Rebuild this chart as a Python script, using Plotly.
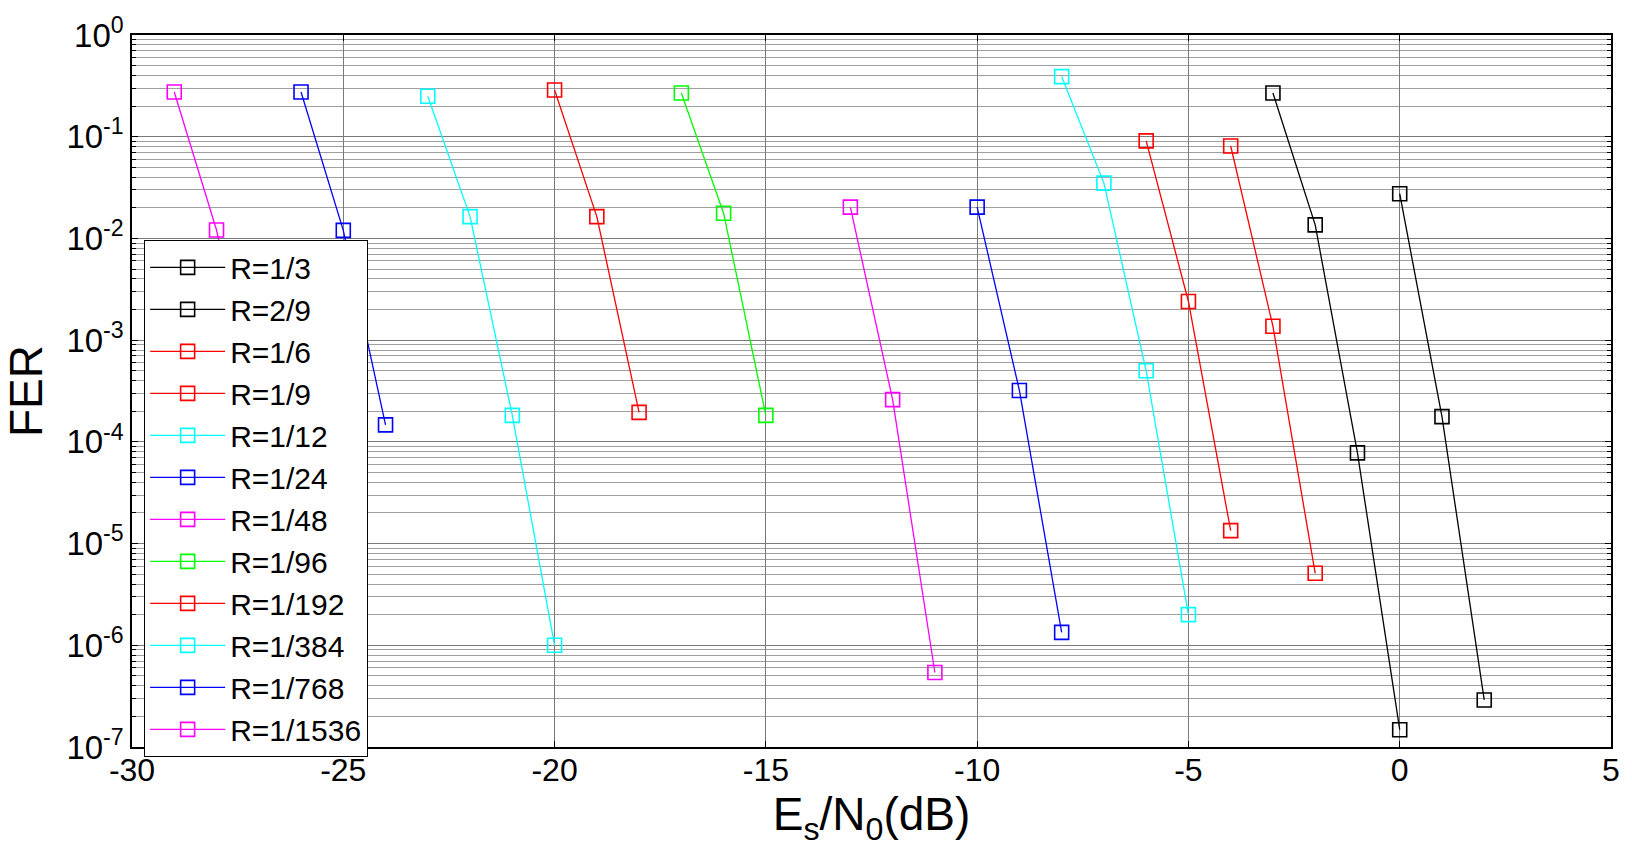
import plotly.graph_objects as go

# Es/N0 (dB) values and FER for each code rate
names = ["R=1/3", "R=2/9", "R=1/6", "R=1/9", "R=1/12", "R=1/24",
         "R=1/48", "R=1/96", "R=1/192", "R=1/384", "R=1/768", "R=1/1536"]
colors = ["#000000", "#000000", "#ff0000", "#ff0000", "#00ffff", "#0000ff",
          "#ff00ff", "#00ff00", "#ff0000", "#00ffff", "#0000ff", "#ff00ff"]

x_r1_3 = [0, 1, 2]
y_r1_3 = [2.75e-2, 1.77e-4, 2.9e-7]
x_r2_9 = [-3, -2, -1, 0]
y_r2_9 = [0.269, 1.36e-2, 7.8e-5, 1.48e-7]
x_r1_6 = [-4, -3, -2]
y_r1_6 = [8.1e-2, 1.37e-3, 5.1e-6]
x_r1_9 = [-6, -5, -4]
y_r1_9 = [9.1e-2, 2.4e-3, 1.34e-5]
x_r1_12 = [-8, -7, -6, -5]
y_r1_12 = [0.39, 3.5e-2, 5.0e-4, 2.0e-6]
x_r1_24 = [-10, -9, -8]
y_r1_24 = [2.03e-2, 3.2e-4, 1.34e-6]
x_r1_48 = [-13, -12, -11]
y_r1_48 = [2.03e-2, 2.6e-4, 5.4e-7]
x_r1_96 = [-17, -16, -15]
y_r1_96 = [0.269, 1.77e-2, 1.82e-4]
x_r1_192 = [-20, -19, -18]
y_r1_192 = [0.288, 1.64e-2, 1.95e-4]
x_r1_384 = [-23, -22, -21, -20]
y_r1_384 = [0.25, 1.64e-2, 1.82e-4, 1.0e-6]
x_r1_768 = [-26, -25, -24]
y_r1_768 = [0.275, 1.2e-2, 1.47e-4]
x_r1_1536 = [-29, -28, -27]
y_r1_1536 = [0.275, 1.21e-2, 1.5e-4]

xs = [x_r1_3, x_r2_9, x_r1_6, x_r1_9, x_r1_12, x_r1_24,
      x_r1_48, x_r1_96, x_r1_192, x_r1_384, x_r1_768, x_r1_1536]
ys = [y_r1_3, y_r2_9, y_r1_6, y_r1_9, y_r1_12, y_r1_24,
      y_r1_48, y_r1_96, y_r1_192, y_r1_384, y_r1_768, y_r1_1536]

x_ticks = [-30, -25, -20, -15, -10, -5, 0, 5]
y_exps = [0, -1, -2, -3, -4, -5, -6, -7]

font_family = "Liberation Sans, Arial, sans-serif"

fig = go.Figure()
for n, c, x, y in zip(names, colors, xs, ys):
    fig.add_trace(go.Scatter(
        x=x, y=y, name=n, mode="lines+markers",
        line=dict(color=c, width=1.3),
        marker=dict(symbol="square-open", size=14, color=c, line=dict(width=1.6, color=c)),
    ))

minor_vals = [k * 10.0 ** d for d in range(-7, 0) for k in range(2, 10)]

fig.update_layout(
    width=1632, height=849,
    margin=dict(l=132, r=19, t=31, b=102),
    paper_bgcolor="white", plot_bgcolor="white",
    font=dict(family=font_family, color="black"),
    showlegend=True,
    legend=dict(
        x=0.008, y=0.712, xanchor="left", yanchor="top",
        bgcolor="white", bordercolor="black", borderwidth=1.3,
        font=dict(size=30, family=font_family, color="black"),
        itemwidth=75, tracegroupgap=0,
    ),
    xaxis=dict(
        range=[-30, 5], tickvals=x_ticks, ticktext=[str(v) for v in x_ticks],
        tickfont=dict(size=32, family=font_family), showgrid=True, gridcolor="#7a7a7a", gridwidth=1,
        zeroline=False, showline=True, linecolor="black", linewidth=1.5, mirror="allticks",
        ticks="inside", ticklen=6, tickcolor="black", ticklabelstandoff=-6,
        title=dict(text="E<sub>s</sub>/N<sub>0</sub>(dB)", font=dict(size=46, family=font_family), standoff=4),
    ),
    yaxis=dict(
        type="log", range=[-7, 0],
        tickvals=[10.0 ** e for e in y_exps],
        ticktext=["10<sup>%d</sup>" % e for e in y_exps],
        tickfont=dict(size=33, family=font_family), showgrid=True, gridcolor="#7a7a7a", gridwidth=1,
        zeroline=False, showline=True, linecolor="black", linewidth=1.5, mirror="allticks",
        ticks="inside", ticklen=6, tickcolor="black",
        minor=dict(tickvals=minor_vals, showgrid=True, gridcolor="#a0a0a0", gridwidth=1,
                   ticks="inside", ticklen=4, tickcolor="black"),
        title=dict(text="FER", font=dict(size=46, family=font_family), standoff=10),
    ),
)

fig.write_html("out.html", config={"displayModeBar": False},
               post_script="document.body.style.margin='0';document.body.style.overflow='hidden';")
